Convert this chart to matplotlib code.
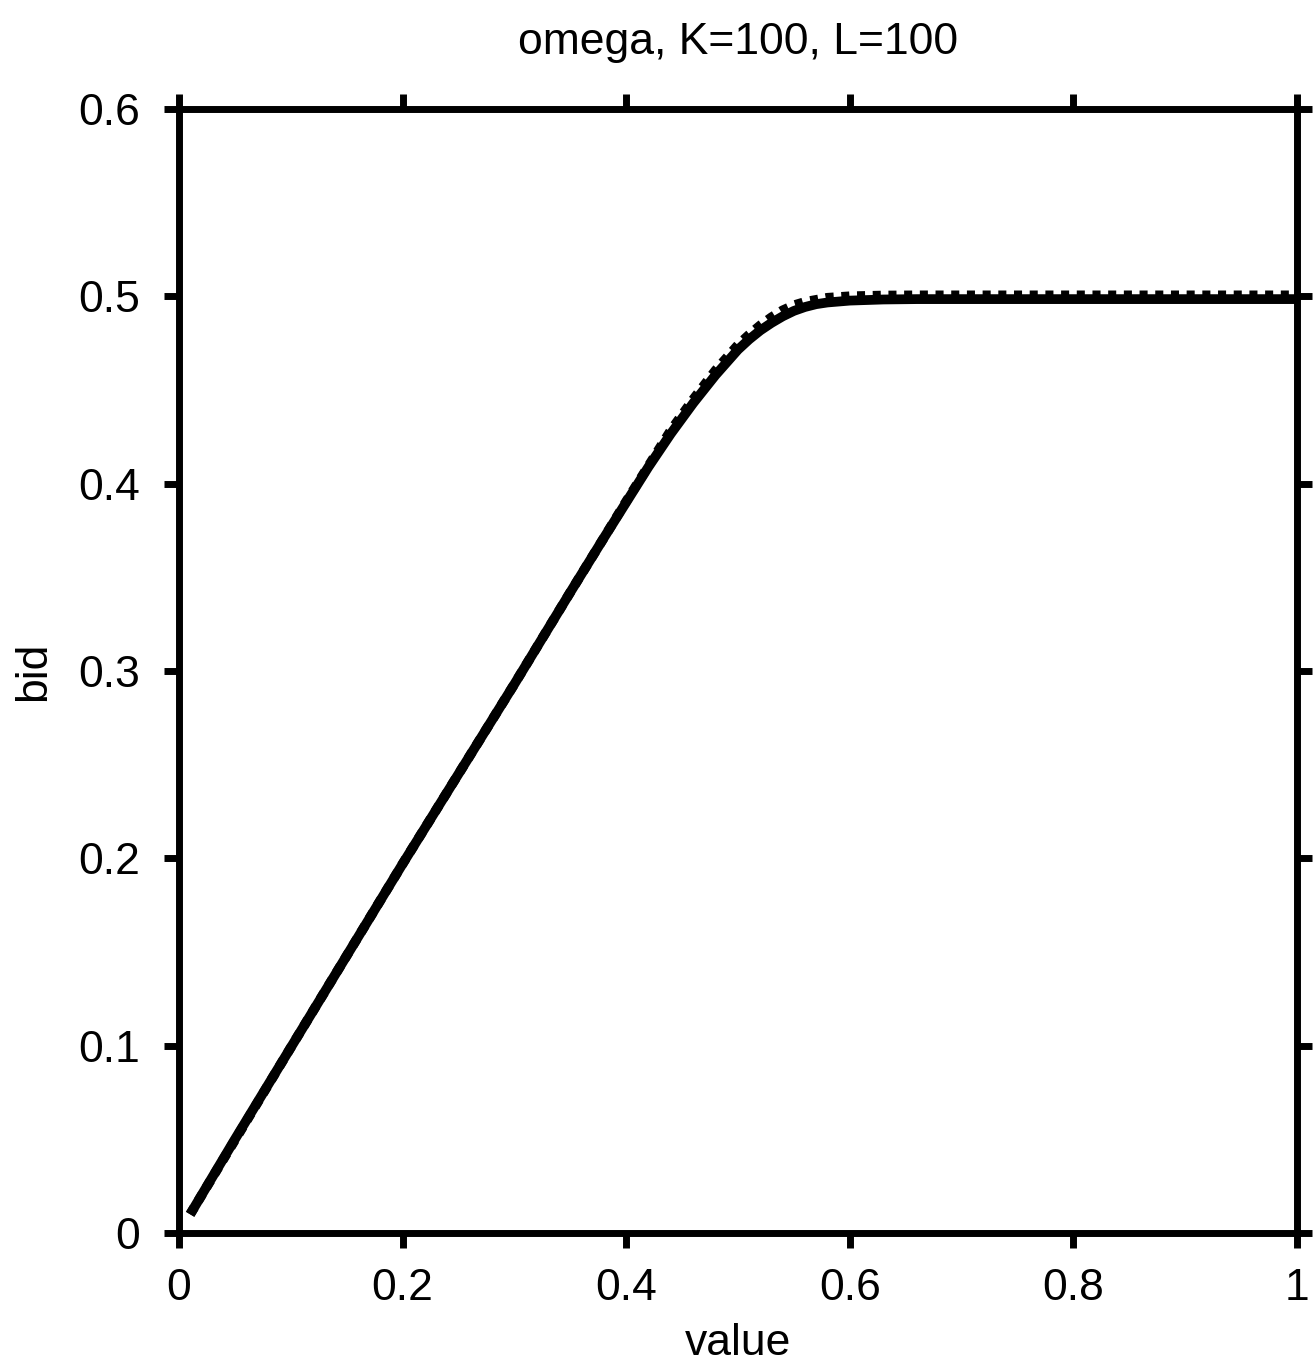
import matplotlib
matplotlib.use("Agg")
import matplotlib.pyplot as plt

plt.rcParams['font.family'] = ['Liberation Sans', 'DejaVu Sans']
plt.rcParams['lines.scale_dashes'] = False

# solid curve
value_solid = [0.01, 0.05, 0.1, 0.15, 0.2, 0.25, 0.3, 0.35, 0.38, 0.40, 0.42, 0.44, 0.46,
               0.48, 0.50, 0.51, 0.52, 0.53, 0.54, 0.55, 0.56, 0.57, 0.58, 0.60, 0.63,
               0.66, 0.7, 0.8, 0.9, 1.0]
bid_solid = [0.01, 0.05, 0.099, 0.148, 0.197, 0.245, 0.293, 0.342, 0.371, 0.390, 0.409, 0.4267,
             0.443, 0.458, 0.4715, 0.477, 0.4818, 0.4858, 0.4893, 0.4922, 0.4943, 0.4958,
             0.4967, 0.4977, 0.4983, 0.4985, 0.4985, 0.4985, 0.4985, 0.4985]

# dotted curve, slightly above in the plateau
value_dash = [0.01, 0.1, 0.2, 0.3, 0.35, 0.38, 0.40, 0.42, 0.44, 0.46, 0.48, 0.50, 0.51,
              0.52, 0.53, 0.54, 0.55, 0.56, 0.58, 0.60, 0.63, 0.66, 0.7, 0.8, 0.9, 1.0]
bid_dash = [0.01, 0.099, 0.197, 0.293, 0.342, 0.371, 0.3905, 0.4095, 0.4285, 0.445, 0.4605,
            0.474, 0.4795, 0.4845, 0.4888, 0.4925, 0.4952, 0.497, 0.4992, 0.5, 0.5004,
            0.5005, 0.5005, 0.5005, 0.5005, 0.5005]

xticks = [0, 0.2, 0.4, 0.6, 0.8, 1]
xticklabels = ['0', '0.2', '0.4', '0.6', '0.8', '1']
yticks = [0, 0.1, 0.2, 0.3, 0.4, 0.5, 0.6]
yticklabels = ['0', '0.1', '0.2', '0.3', '0.4', '0.5', '0.6']

fig = plt.figure(figsize=(13.13, 13.67), dpi=100)
ax = fig.add_axes([0.1363, 0.098, 0.8515, 0.8223])

ax.plot(value_dash, bid_dash, color='black', lw=7, linestyle=(0, (5.8, 5.5)),
        solid_capstyle='butt', dash_capstyle='butt', solid_joinstyle='round')
ax.plot(value_solid, bid_solid, color='black', lw=7, solid_capstyle='butt',
        solid_joinstyle='round')

ax.set_xlim(0, 1)
ax.set_ylim(0, 0.6)
ax.set_xticks(xticks)
ax.set_xticklabels(xticklabels)
ax.set_yticks(yticks)
ax.set_yticklabels(yticklabels)

for s in ax.spines.values():
    s.set_linewidth(5)
ax.tick_params(direction='out', length=11, width=5, labelsize=32,
               top=True, right=True, labeltop=False, labelright=False)
ax.tick_params(axis='x', pad=14)
ax.tick_params(axis='y', pad=17)

ax.set_xlabel('value', fontsize=32, labelpad=10)
ax.set_ylabel('bid', fontsize=32, labelpad=17)
fig.text(0.562, 0.969, 'omega, K=100, L=100', fontsize=32, ha='center', va='center')

fig.savefig('out.png', dpi=100)
